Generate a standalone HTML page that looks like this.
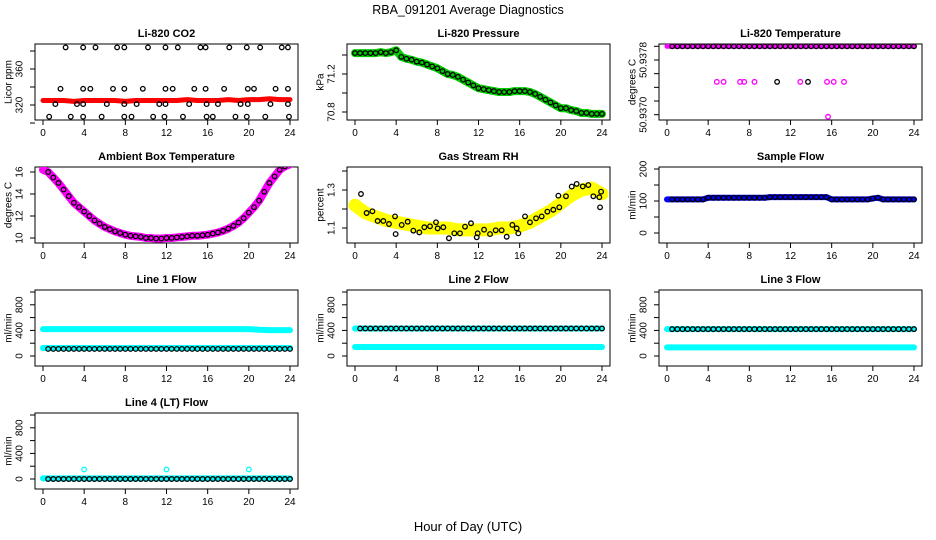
<!DOCTYPE html>
<html><head><meta charset="utf-8"><style>
html,body{margin:0;padding:0;background:#fff}
svg{display:block;font-family:"Liberation Sans",sans-serif}
</style></head><body>
<svg id="c" width="936" height="540" viewBox="0 0 936 540">
<text x="468" y="14" text-anchor="middle" font-size="12.5">RBA_091201  Average Diagnostics</text>
<text x="468" y="531" text-anchor="middle" font-size="13">Hour of Day (UTC)</text>
</svg>
<script>
const hours25=[0,1,2,3,4,5,6,7,8,9,10,11,12,13,14,15,16,17,18,19,20,21,22,23,24];
const hours49=[0,0.5,1,1.5,2,2.5,3,3.5,4,4.5,5,5.5,6,6.5,7,7.5,8,8.5,9,9.5,10,10.5,11,11.5,12,12.5,13,13.5,14,14.5,15,15.5,16,16.5,17,17.5,18,18.5,19,19.5,20,20.5,21,21.5,22,22.5,23,23.5,24];
const xTicks=[0,4,8,12,16,20,24];
const co2Band=[325,325,325,324,325,325,325,325,324,325,325,325,325,325,326,325,325,325,326,325,326,326,327,326,326];
const co2OutH=[2.2,3.9,5.1,7.2,7.9,10.2,11.9,13.1,15.3,15.8,18.1,19.8,21.1,23.2,23.8,1.7,3.9,4.6,6.8,7.9,9.7,11.9,12.6,14.7,15.8,17.6,19.9,20.5,22.6,23.8,1.2,3.3,3.9,6.2,7.9,9.1,11.3,11.9,14.2,15.9,17.0,19.2,19.9,22.1,23.8,0.6,2.7,3.9,5.7,7.9,8.6,10.7,11.8,13.6,15.9,16.5,18.7,19.8,21.6,23.9];
const co2OutV=[384,384,384,384,384,384,384,384,384,384,384,384,384,384,384,338,338,338,338,338,338,338,338,338,338,338,338,338,338,338,321,321,321,321,321,321,321,321,321,321,321,321,321,321,321,307,307,307,307,307,307,307,307,307,307,307,307,307,307,307];
const pressure=[71.42,71.42,71.42,71.42,71.42,71.43,71.42,71.43,71.45,71.38,71.36,71.35,71.33,71.32,71.30,71.28,71.26,71.23,71.20,71.19,71.17,71.14,71.11,71.08,71.05,71.04,71.03,71.02,71.01,71.01,71.01,71.02,71.02,71.02,71.01,70.99,70.96,70.93,70.90,70.87,70.84,70.84,70.82,70.81,70.79,70.79,70.78,70.78,70.78];
const tempMain=50.9380;
const tempMidH=[4.84,5.5,7.1,7.5,8.5,10.7,12.95,13.7,15.55,16.2,17.2,15.65];
const tempMidV=[50.93748,50.93748,50.93748,50.93748,50.93748,50.93748,50.93748,50.93748,50.93748,50.93748,50.93748,50.93697];
const tempMidBlack=[0,0,0,0,0,1,0,1,0,0,0,0];
const ambient=[16.2,16.0,15.5,15.0,14.4,13.8,13.2,12.8,12.4,12.0,11.6,11.3,11.0,10.8,10.6,10.45,10.3,10.2,10.15,10.1,10.0,10.0,9.95,9.95,10.0,10.0,10.05,10.1,10.15,10.2,10.2,10.25,10.3,10.4,10.5,10.65,10.85,11.1,11.4,11.8,12.3,12.8,13.4,14.2,15.0,15.6,16.2,16.5,16.7];
const rhBand=[1.22,1.18,1.16,1.14,1.13,1.12,1.11,1.10,1.10,1.10,1.09,1.09,1.09,1.09,1.10,1.10,1.11,1.13,1.16,1.19,1.23,1.27,1.30,1.31,1.28];
const rhPtsH=[0.58,1.13,1.69,2.2,2.75,3.3,3.89,3.95,4.54,5.12,5.67,6.25,6.74,7.29,7.87,8.03,8.58,9.13,9.65,10.2,10.69,11.27,11.83,11.92,12.54,13.12,13.67,14.25,14.74,15.29,15.71,15.87,16.52,17.0,17.59,18.14,18.69,19.27,19.76,19.85,20.5,21.06,21.54,22.13,22.67,23.16,23.74,23.81,23.91];
const rhPtsV=[1.279,1.179,1.188,1.137,1.137,1.121,1.161,1.068,1.116,1.133,1.086,1.077,1.104,1.109,1.13,1.098,1.104,1.046,1.072,1.072,1.107,1.125,1.051,1.072,1.091,1.068,1.088,1.088,1.054,1.116,1.098,1.072,1.161,1.13,1.151,1.161,1.186,1.196,1.27,1.209,1.267,1.318,1.332,1.319,1.326,1.267,1.262,1.209,1.291];
const sampleFlow=[105,105,105,105,105,105,105,105,110,110,110,110,110,110,110,110,110,110,110,110,112,112,112,112,112,112,112,112,112,112,112,112,105,105,105,105,105,105,105,105,108,110,105,105,105,105,105,105,105];
const line1Cyan=[420,420,420,420,420,420,420,420,420,420,420,420,420,420,420,420,420,420,420,420,420,410,405,405,405];
const line1Black=110, line1CyanLow=125;
const line2Black=430, line2Cyan=140;
const line3Black=420, line3Cyan=135;
const line4Black=0, line4Cyan=10;
const line4OutH=[4,12,20], line4OutV=[150,150,150];

const NS='http://www.w3.org/2000/svg';
const svg=document.getElementById('c');
function mk(tag,attrs,parent){const e=document.createElementNS(NS,tag);for(const k in attrs)e.setAttribute(k,attrs[k]);(parent||svg).appendChild(e);return e;}
function panel(col,row,title,ylab,anch,yT,yL,name){
  const X0=43+312*col, top=44+row*123, left=X0-8, w=263, h=76, bottom=top+h;
  const g=mk('g',{});
  
  
  const x=v=>X0+v*247/24;
  const y=v=>top+anch[1]+(v-anch[0])*(anch[3]-anch[1])/(anch[2]-anch[0]);
  const t=mk('text',{x:left+w/2,y:top-7,'text-anchor':'middle','font-size':11,'font-weight':'bold'},g);t.textContent=title;
  
  
  const r=mk('rect',{x:left,y:top,width:w,height:h,fill:'none',stroke:'#000','stroke-width':1},g);
  
  
  xTicks.forEach(v=>{mk('line',{x1:x(v),x2:x(v),y1:bottom,y2:bottom+5,stroke:'#000'},g);
    const tx=mk('text',{x:x(v),y:bottom+16,'text-anchor':'middle','font-size':10},g);tx.textContent=v;
    
    });
  yT.forEach((v,i)=>{const yy=y(v);mk('line',{x1:left-5,x2:left,y1:yy,y2:yy,stroke:'#000'},g);
    if(yL[i]!==''){const tx=mk('text',{x:0,y:0,'text-anchor':'middle','font-size':10,'dominant-baseline':'central',transform:`translate(${left-15},${yy}) rotate(-90)`},g);tx.textContent=yL[i];
    
    }});
  const yl=mk('text',{x:0,y:0,'text-anchor':'middle','font-size':10,'dominant-baseline':'central',transform:`translate(${left-26},${top+h/2}) rotate(-90)`},g);yl.textContent=ylab;
  
  
  const clip=mk('clipPath',{id:'cl'+name},g);mk('rect',{x:left,y:top,width:w,height:h},clip);
  const d=mk('g',{'clip-path':`url(#cl${name})`},g);
  return {x,y,g:d};
}
function band(p,hs,vs,color,sw,name){
  let s='';hs.forEach((hh,i)=>{s+=(i?'L':'M')+p.x(hh)+','+p.y(vs[i]);});
  const e=mk('path',{d:s,fill:'none',stroke:color,'stroke-width':sw,'stroke-linejoin':'round','stroke-linecap':'round'},p.g);
  
  
}
function pts(p,hs,vs,color,name,r){
  hs.forEach((hh,i)=>{const e=mk('circle',{cx:p.x(hh),cy:p.y(vs[i]),r:r||2.3,fill:'none',stroke:color,'stroke-width':1.3},p.g);
  
  });
}
const cst=(v,n)=>Array(n).fill(v);

// CO2
let p=panel(0,0,'Li-820 CO2','Licor ppm',[320,61,360,25],[300,320,340,360,380],['','320','','360',''],'co2');
band(p,hours25,co2Band,'#f00',5,'co2-band');
pts(p,co2OutH,co2OutV,'#000','co2-point');
// Pressure
p=panel(1,0,'Li-820 Pressure','kPa',[70.8,68,71.2,30],[70.8,71.0,71.2,71.4],['70.8','','71.2',''],'pressure');
band(p,hours49,pressure,'#0c0',8,'pressure-band');
pts(p,hours49,pressure,'#000','pressure-point');
// Temperature
p=panel(2,0,'Li-820 Temperature','degrees C',[50.9370,70.7,50.9380,2.3],[50.9370,50.9372,50.9374,50.9376,50.9378,50.9380],['50.9370','','','','50.9378',''],'li820-temp');
band(p,[0,24],[tempMain,tempMain],'#f0f',5,'li820-temp-band');
pts(p,hours49.slice(1),cst(tempMain,48),'#000','li820-temp-point');
tempMidH.forEach((hh,i)=>pts(p,[hh],[tempMidV[i]],tempMidBlack[i]?'#000':'#f0f','li820-temp-outlier'));
// Ambient
p=panel(0,1,'Ambient Box Temperature','degrees C',[10,71,16,5],[10,12,14,16],['10','12','14','16'],'ambient');
band(p,hours49,ambient,'#f0f',8,'ambient-band');
pts(p,hours49.slice(1),ambient.slice(1),'#000','ambient-point');
// RH
p=panel(1,1,'Gas Stream RH','percent',[1.1,61,1.3,23],[1.1,1.2,1.3,1.4],['1.1','','1.3',''],'rh');
band(p,hours25,rhBand,'#ff0',13,'rh-band');
pts(p,rhPtsH,rhPtsV,'#000','rh-point');
// Sample flow
p=panel(2,1,'Sample Flow','ml/min',[0,66,200,2],[0,50,100,150,200],['0','','100','','200'],'sample-flow');
band(p,hours49,sampleFlow,'#00f',6,'sample-flow-band');
pts(p,hours49.slice(1),sampleFlow.slice(1),'#000','sample-flow-point');
// Line flows
const fT=[0,200,400,600,800,1000], fL=['0','','400','','800',''];
p=panel(0,2,'Line 1 Flow','ml/min',[0,66,1000,2],fT,fL,'line1');
band(p,hours25,line1Cyan,'#0ff',6,'line1-cyan-band');
band(p,[0,24],[line1CyanLow,line1CyanLow],'#0ff',6,'line1-cyan-low');
pts(p,hours49.slice(1),cst(line1Black,48),'#000','line1-point');
p=panel(1,2,'Line 2 Flow','ml/min',[0,66,1000,2],fT,fL,'line2');
band(p,[0,24],[line2Black,line2Black],'#0ff',6,'line2-cyan-high');
band(p,[0,24],[line2Cyan,line2Cyan],'#0ff',6,'line2-cyan-band');
pts(p,hours49.slice(1),cst(line2Black,48),'#000','line2-point');
p=panel(2,2,'Line 3 Flow','ml/min',[0,66,1000,2],fT,fL,'line3');
band(p,[0,24],[line3Black,line3Black],'#0ff',6,'line3-cyan-high');
band(p,[0,24],[line3Cyan,line3Cyan],'#0ff',6,'line3-cyan-band');
pts(p,hours49.slice(1),cst(line3Black,48),'#000','line3-point');
p=panel(0,3,'Line 4 (LT) Flow','ml/min',[0,66,1000,2],fT,fL,'line4');
band(p,[0,24],[line4Cyan,line4Cyan],'#0ff',6,'line4-cyan-band');
pts(p,hours49.slice(1),cst(line4Black,48),'#000','line4-point');
pts(p,line4OutH,line4OutV,'#0ff','line4-outlier');
</script>
</body></html>
